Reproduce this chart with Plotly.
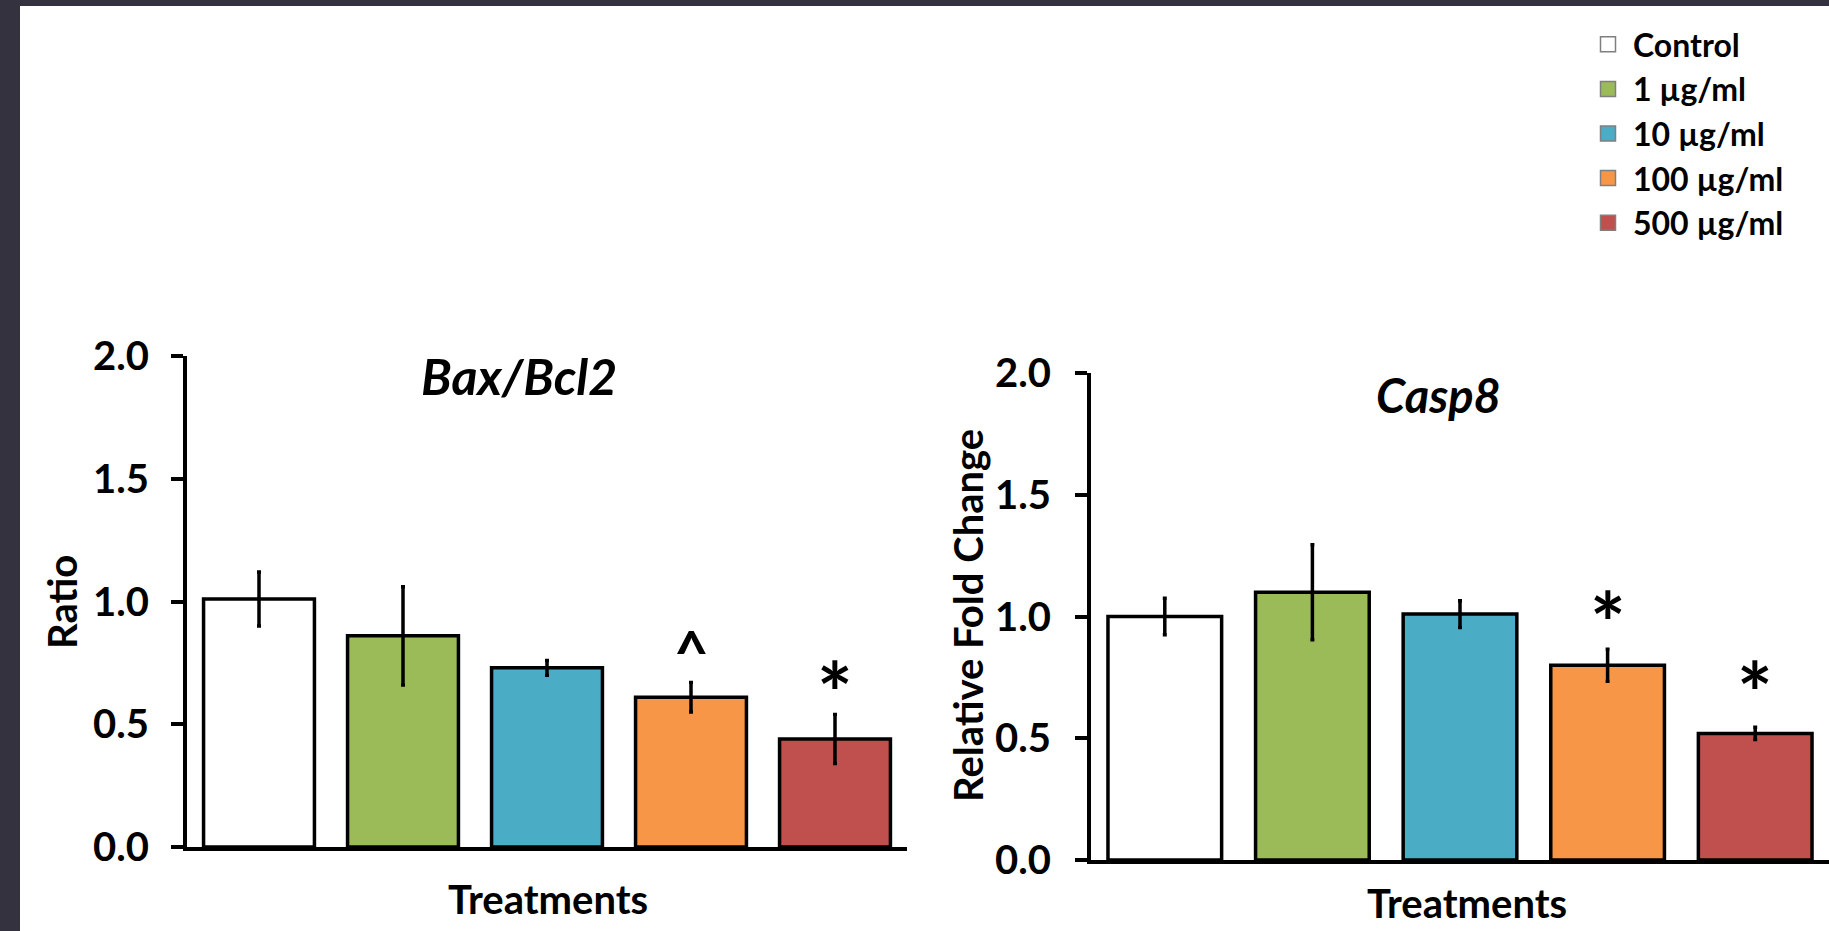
import plotly.graph_objects as go

# ---- data ----
categories = ["Control", "1 µg/ml", "10 µg/ml", "100 µg/ml", "500 µg/ml"]
bar_colors = ["#FFFFFF", "#9BBB59", "#4BACC6", "#F79646", "#C0504D"]

bax_bcl2 = [1.01, 0.86, 0.73, 0.61, 0.44]
bax_bcl2_err = [0.11, 0.20, 0.03, 0.06, 0.10]

casp8 = [1.00, 1.10, 1.01, 0.80, 0.52]
casp8_err = [0.075, 0.195, 0.055, 0.066, 0.025]

# significance markers: (category, label y-position, symbol)
bax_marks = [("100 µg/ml", 0.80, "^"), ("500 µg/ml", 0.635, "*")]
casp8_marks = [("100 µg/ml", 0.98, "*"), ("500 µg/ml", 0.69, "*")]

y_ticks = [0.0, 0.5, 1.0, 1.5, 2.0]

FONT = "Lato"
W, H = 1829, 931
FRAME = "#35323f"
LEFT_STRIP = 20
fig = go.Figure()

def add_bars(vals, errs, xa, ya):
    for cat, v, e, c in zip(categories, vals, errs, bar_colors):
        fig.add_trace(go.Bar(
            x=[cat], y=[v], xaxis=xa, yaxis=ya, showlegend=False,
            marker=dict(color=c, line=dict(color="black", width=3.5)),
            error_y=dict(type="data", array=[e], color="black", thickness=3.5, width=2),
            hoverinfo="x+y",
        ))

add_bars(bax_bcl2, bax_bcl2_err, "x", "y")
add_bars(casp8, casp8_err, "x2", "y2")

# legend-only entries
for cat, c in zip(categories, bar_colors):
    fig.add_trace(go.Scatter(
        x=[None], y=[None], mode="markers", name=cat,
        marker=dict(symbol="square", size=15, color=c, line=dict(color="#7f7f7f", width=1.5)),
    ))

axis_common = dict(showline=True, linecolor="black", linewidth=4, showgrid=False,
                   zeroline=False, automargin=False)
ytick_common = dict(range=[0, 2], tickvals=y_ticks, tickformat=".1f", ticks="outside",
                    ticklen=12, tickwidth=4, tickcolor="black",
                    tickfont=dict(family=FONT, size=40, weight="bold", color="black"))

fig.update_layout(
    width=W, height=H,
    margin=dict(l=0, r=0, t=0, b=0, autoexpand=False),
    paper_bgcolor=FRAME, plot_bgcolor="white",
    barmode="overlay", bargap=0.23,
    font=dict(family=FONT, color="black"),
    xaxis=dict(domain=[187/W, 907/W], anchor="y", range=[-0.5, 4.5],
               showticklabels=False, ticks="", categoryorder="array", categoryarray=categories, **axis_common),
    yaxis=dict(domain=[1-847/H, 1-356/H], anchor="x", ticklabelstandoff=14, **ytick_common, **axis_common),
    xaxis2=dict(domain=[1091/W, 1.0], anchor="y2", range=[-0.5, 4.5],
                showticklabels=False, ticks="", categoryorder="array", categoryarray=categories, **axis_common),
    yaxis2=dict(domain=[1-860/H, 1-373/H], anchor="x2", ticklabelstandoff=16, **ytick_common, **axis_common),
    legend=dict(x=1583/W, y=1-17/H, xanchor="left", yanchor="top",
                font=dict(family=FONT, size=32, weight="bold", color="black"),
                bgcolor="rgba(0,0,0,0)", itemwidth=40),
)

def pa(text, x, y, size, angle=0, style="normal"):
    return dict(text=text, x=x/W, y=1-y/H, xref="paper", yref="paper", xanchor="center",
                yanchor="middle", textangle=angle, showarrow=False,
                font=dict(family=FONT, size=size, weight="bold", style=style, color="black"))

annots = [
    pa("Bax/Bcl2", 519, 376, 50, style="italic"),
    pa("Casp8", 1438, 395, 47, style="italic"),
    pa("Ratio", 62, 602, 40, angle=-90),
    pa("Relative Fold Change", 968, 616, 40, angle=-90),
    pa("Treatments", 548, 899, 40),
    pa("Treatments", 1467, 903, 40),
]
for cat, yv, s in bax_marks:
    annots.append(dict(text=s, x=cat, y=yv, xref="x", yref="y", showarrow=False,
                       xanchor="center", yanchor="middle",
                       font=dict(family=FONT, size=60 if s == "^" else 84, weight="bold", color="black")))
for cat, yv, s in casp8_marks:
    annots.append(dict(text=s, x=cat, y=yv, xref="x2", yref="y2", showarrow=False,
                       xanchor="center", yanchor="middle",
                       font=dict(family=FONT, size=84, weight="bold", color="black")))
fig.update_layout(annotations=annots)

# white page area; the dark paper colour remains visible as a strip at the top and left edges
fig.add_shape(type="rect", xref="paper", yref="paper", x0=LEFT_STRIP/W, x1=1.02, y0=-0.02, y1=1-6/H,
              fillcolor="white", line_width=0, layer="below")

fig.write_html("out.html", config={"displayModeBar": False},
               post_script="document.body.style.margin='0';document.body.style.overflow='hidden';")
